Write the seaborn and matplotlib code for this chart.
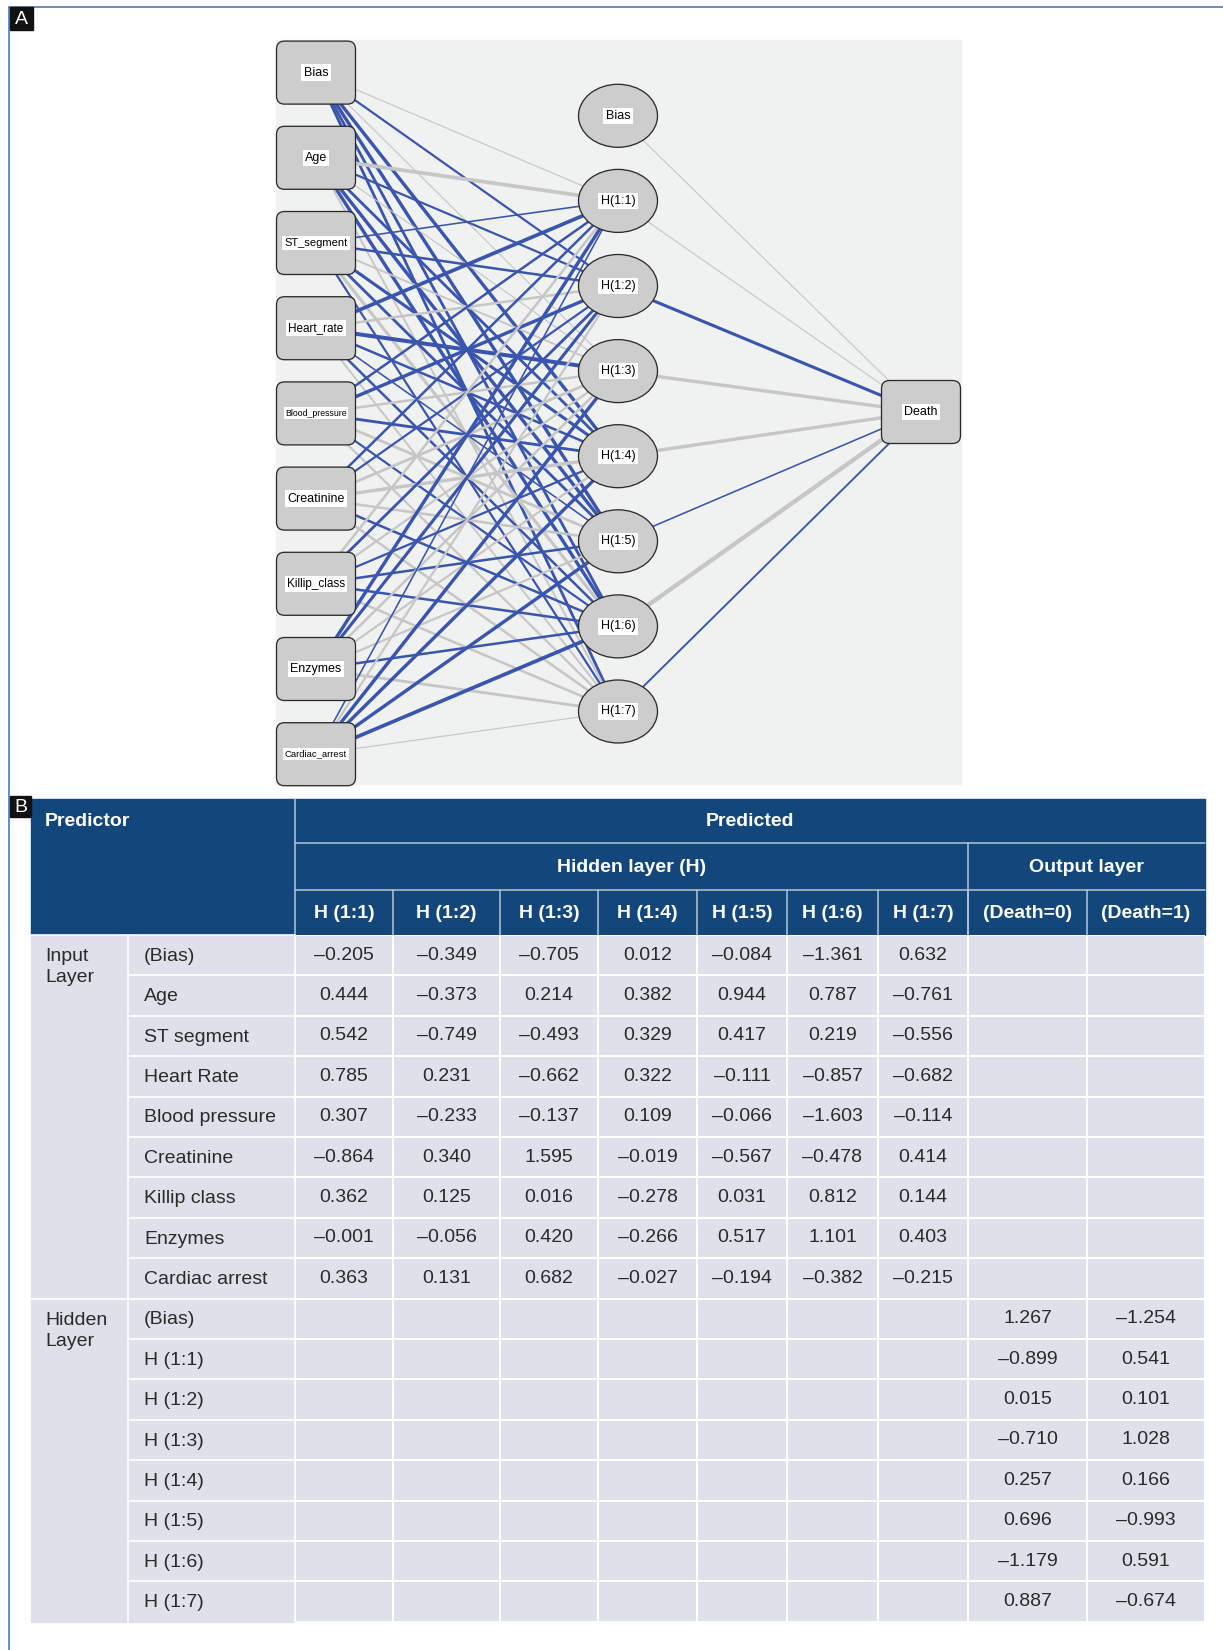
import numpy as np
import matplotlib
matplotlib.use('Agg')
import matplotlib.pyplot as plt
from matplotlib.patches import Rectangle, FancyBboxPatch, Ellipse
from matplotlib.colors import ListedColormap
import seaborn as sns

# ---------------- data ----------------
input_nodes = ['Bias', 'Age', 'ST_segment', 'Heart_rate', 'Blood_pressure',
               'Creatinine', 'Killip_class', 'Enzymes', 'Cardiac_arrest']
hidden_nodes = ['Bias', 'H(1:1)', 'H(1:2)', 'H(1:3)', 'H(1:4)', 'H(1:5)', 'H(1:6)', 'H(1:7)']
output_node = 'Death'

# synaptic weights as drawn in the diagram (sign -> colour, size -> line width)
diag_in_hidden = [
    [-0.15, 0.5, -0.15, 0.9, 0.9, 0.7, 0.7],
    [-1.0, 0.5, -0.15, 0.7, 0.9, 0.9, -0.4],
    [0.3, 0.6, -0.4, 0.8, 0.7, -0.8, 0.5],
    [1.0, -0.6, 1.1, 0.6, 0.3, 0.6, -0.4],
    [0.6, 0.9, -0.6, 0.7, -0.7, 0.5, -0.5],
    [0.6, 0.5, -0.7, -0.9, -0.6, 0.6, -0.6],
    [-0.6, 0.7, -0.5, 0.5, 0.6, 0.6, -0.6],
    [0.9, 0.8, -0.6, -0.5, -0.5, 0.6, -0.7],
    [0.3, -0.5, 0.9, 0.9, 0.9, 1.0, -0.15],
]
diag_hidden_out = [-0.15, -0.15, 0.8, -0.9, -0.9, 0.3, -1.2, 0.4]

# table B
col_labels = ['H (1:1)', 'H (1:2)', 'H (1:3)', 'H (1:4)', 'H (1:5)', 'H (1:6)', 'H (1:7)',
              '(Death=0)', '(Death=1)']
input_rows = ['(Bias)', 'Age', 'ST segment', 'Heart Rate', 'Blood pressure',
              'Creatinine', 'Killip class', 'Enzymes', 'Cardiac arrest']
hidden_rows = ['(Bias)', 'H (1:1)', 'H (1:2)', 'H (1:3)', 'H (1:4)', 'H (1:5)', 'H (1:6)', 'H (1:7)']
w_input_hidden = [
    [-0.205, -0.349, -0.705, 0.012, -0.084, -1.361, 0.632],
    [0.444, -0.373, 0.214, 0.382, 0.944, 0.787, -0.761],
    [0.542, -0.749, -0.493, 0.329, 0.417, 0.219, -0.556],
    [0.785, 0.231, -0.662, 0.322, -0.111, -0.857, -0.682],
    [0.307, -0.233, -0.137, 0.109, -0.066, -1.603, -0.114],
    [-0.864, 0.340, 1.595, -0.019, -0.567, -0.478, 0.414],
    [0.362, 0.125, 0.016, -0.278, 0.031, 0.812, 0.144],
    [-0.001, -0.056, 0.420, -0.266, 0.517, 1.101, 0.403],
    [0.363, 0.131, 0.682, -0.027, -0.194, -0.382, -0.215],
]
w_death0 = [1.267, -0.899, 0.015, -0.710, 0.257, 0.696, -1.179, 0.887]
w_death1 = [-1.254, 0.541, 0.101, 1.028, 0.166, -0.993, 0.591, -0.674]

# ---------------- style ----------------
sns.set_theme(style='white')
plt.rcParams['font.family'] = ['Liberation Sans', 'DejaVu Sans']

W, H = 1223, 1650
PT = 72 / 100.0          # points per pixel
BLUE = '#3a55ad'
GREY = '#c6c6c6'
NODE = '#cdcdcd'
HEAD = '#13477b'
BODY = '#dfe1ea'
TXT = '#2a2a2a'
BORDER = '#4a74aa'

fig = plt.figure(figsize=(W / 100, H / 100), dpi=100)
ax = fig.add_axes([0, 0, 1, 1])
ax.set_xlim(0, W)
ax.set_ylim(H, 0)
ax.axis('off')

# frame + panel letters
ax.plot([9, W], [7, 7], color=BORDER, lw=1.6 * PT, zorder=5)
ax.plot([9, 9], [7, H], color=BORDER, lw=1.6 * PT, zorder=5)
for lab, (x0, y0, x1, y1) in {'A': (10, 7, 33, 30), 'B': (10, 796, 31, 817)}.items():
    ax.add_patch(Rectangle((x0, y0), x1 - x0, y1 - y0, color='#111111', zorder=6))
    ax.text((x0 + x1) / 2, (y0 + y1) / 2 + 1, lab, color='white', fontsize=14,
            ha='center', va='center', zorder=7)

# ---------------- panel A: network ----------------
ax.add_patch(Rectangle((276, 40), 685, 744, color='#f0f1f1', zorder=0))
in_x, hid_x = 316, 618
in_y = [72.6 + 85.2 * i for i in range(len(input_nodes))]
hid_y = [115.8 + 85.1 * i for i in range(len(hidden_nodes))]
out_xy = (921, 412)


def edge(p, q, w):
    ax.plot([p[0], q[0]], [p[1], q[1]], color=BLUE if w > 0 else GREY,
            lw=(0.7 + 3.0 * abs(w)) * PT, solid_capstyle='butt', zorder=1)


for i, yi in enumerate(in_y):
    for j in range(7):
        edge((in_x, yi), (hid_x, hid_y[j + 1]), diag_in_hidden[i][j])
for j, yj in enumerate(hid_y):
    edge((hid_x, yj), out_xy, diag_hidden_out[j])


def box(cx, cy, w=79, h=63, r=8):
    ax.add_patch(FancyBboxPatch((cx - w / 2 + r, cy - h / 2 + r), w - 2 * r, h - 2 * r,
                                boxstyle=f'round,pad={r}', fc=NODE, ec='#2b2b2b',
                                lw=1.3 * PT, zorder=3))


def label(cx, cy, s, size=9):
    ax.text(cx, cy, s, fontsize=size, ha='center', va='center', color='black', zorder=4,
            bbox=dict(boxstyle='square,pad=0.18', fc='white', ec='none'))


small = {'ST_segment': 8, 'Heart_rate': 8.5, 'Killip_class': 8.5,
         'Blood_pressure': 6.3, 'Cardiac_arrest': 6.8}
for name, yi in zip(input_nodes, in_y):
    box(in_x, yi)
    label(in_x, yi, name, small.get(name, 9))
for name, yj in zip(hidden_nodes, hid_y):
    ax.add_patch(Ellipse((hid_x, yj), 79, 63, fc=NODE, ec='#2b2b2b', lw=1.3 * PT, zorder=3))
    label(hid_x, yj, name)
box(*out_xy)
label(*out_xy, output_node)

# ---------------- panel B: table ----------------
TX0, TXG, TXL, TX1 = 31, 128, 295, 1205
col_edges = [295, 393, 500, 598, 697, 787, 878, 968, 1087, 1205]
HY = [799, 843, 890, 935]
ROW_H = 40.4
n_rows = len(input_rows) + len(hidden_rows)
BY1 = HY[3] + ROW_H * n_rows
FS = 14
LINE = '#b8c6d8'

ax.add_patch(Rectangle((TX0, HY[0]), TX1 - TX0, HY[3] - HY[0], color=HEAD, zorder=1))
hl = dict(color=LINE, lw=1.5 * PT, zorder=2)
ax.plot([TXL, TXL], [HY[0], HY[3]], **hl)
ax.plot([TXL, TX1], [HY[1], HY[1]], **hl)
ax.plot([TXL, TX1], [HY[2], HY[2]], **hl)
ax.plot([col_edges[7], col_edges[7]], [HY[1], HY[3]], **hl)
for x in col_edges[1:-1]:
    ax.plot([x, x], [HY[2], HY[3]], **hl)

hd = dict(color='white', fontsize=FS, fontweight='bold', va='center', zorder=3)
ax.text(45, (HY[0] + HY[1]) / 2 + 1, 'Predictor', ha='left', **hd)
ax.text((TXL + TX1) / 2, (HY[0] + HY[1]) / 2 + 1, 'Predicted', ha='center', **hd)
ax.text((TXL + col_edges[7]) / 2, (HY[1] + HY[2]) / 2 + 1, 'Hidden layer (H)', ha='center', **hd)
ax.text((col_edges[7] + TX1) / 2, (HY[1] + HY[2]) / 2 + 1, 'Output layer', ha='center', **hd)
for k, lab in enumerate(col_labels):
    ax.text((col_edges[k] + col_edges[k + 1]) / 2, (HY[2] + HY[3]) / 2 + 1, lab,
            ha='center', **hd)

# label columns of the body
ax.add_patch(Rectangle((TX0, HY[3]), TXL - TX0, BY1 - HY[3], color=BODY, zorder=1))
wl = dict(color='white', lw=1.6 * PT, zorder=2)
ax.plot([TXG, TXG], [HY[3], BY1], **wl)
ax.plot([TXL, TXL], [HY[3], BY1], **wl)
ax.plot([TX0, TXL], [HY[3], HY[3]], **wl)
for r in range(1, n_rows):
    yb = HY[3] + ROW_H * r
    ax.plot([TX0 if r == len(input_rows) else TXG, TXL], [yb, yb], **wl)
row_names = input_rows + hidden_rows
for r, name in enumerate(row_names):
    ax.text(144, HY[3] + ROW_H * (r + 0.5) + 1, name, fontsize=FS, color=TXT,
            ha='left', va='center', zorder=3)
for g, r0 in (('Input\nLayer', 0), ('Hidden\nLayer', len(input_rows))):
    ax.text(45, HY[3] + ROW_H * r0 + 32, g, fontsize=FS, color=TXT, ha='left',
            va='center', linespacing=1.3, zorder=3)


def fmt(v):
    return '' if v is None else f'{v:.3f}'.replace('-', '\u2013')


# numeric cells: one heatmap strip per column
n_in = len(input_rows)
for k in range(len(col_labels)):
    if k < 7:
        vals = [w_input_hidden[r][k] for r in range(n_in)] + [None] * len(hidden_rows)
    else:
        vals = [None] * n_in + (w_death0 if k == 7 else w_death1)
    annot = np.array([[fmt(v)] for v in vals])
    x0, x1 = col_edges[k], col_edges[k + 1]
    hax = fig.add_axes([x0 / W, 1 - BY1 / H, (x1 - x0) / W, (BY1 - HY[3]) / H])
    sns.heatmap(np.zeros((n_rows, 1)), ax=hax, cmap=ListedColormap([BODY]), cbar=False,
                annot=annot, fmt='', linewidths=1.6 * PT, linecolor='white',
                xticklabels=False, yticklabels=False,
                annot_kws=dict(fontsize=FS, color=TXT))
    hax.set_xlabel('')
    hax.set_ylabel('')

fig.savefig('out.png', dpi=100)
